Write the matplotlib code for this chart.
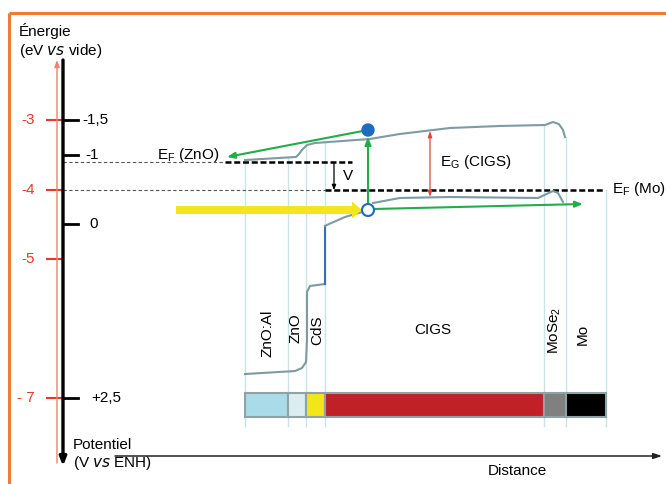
import matplotlib
matplotlib.use("Agg")
import matplotlib.pyplot as plt
from matplotlib.patches import FancyArrow, Ellipse
import numpy as np

plt.rcParams['font.family'] = ['Liberation Sans', 'DejaVu Sans']

# ---------------- data ----------------
# energy scale (eV vs vacuum) ticks, and potential scale (V vs ENH)
energy_ticks = [-3, -4, -5, -7]
energy_labels = ['-3', '-4', '-5', '- 7']
potential_ticks = [-1.5, -1, 0, 2.5]
potential_labels = ['-1,5', '-1', '0', '+2,5']

# layers (distance units) and colours
layer_names = ['ZnO:Al', 'ZnO', 'CdS', 'CIGS', r'MoSe$_{\mathregular{2}}$', 'Mo']
layer_bounds = [245, 288, 306, 325, 544, 566, 606]
layer_colors = ['#a9dce8', '#dcedf1', '#f2e51a', '#c02126', '#808080', '#000000']

# Fermi levels (eV)
ef_zno = -3.60
ef_mo = -4.01

# conduction band profile
cb_x = [245, 296, 299, 302, 307, 315, 370, 400, 450, 500, 545, 553, 559, 563, 565]
cb_E = [-3.576, -3.532, -3.49, -3.43, -3.36, -3.331, -3.273, -3.201, -3.115,
        -3.086, -3.072, -3.029, -3.060, -3.144, -3.245]

# valence band profile (ZnO:Al .. CdS)
vb1_x = [245, 295, 302, 306, 307, 307, 310, 325]
vb1_E = [-6.655, -6.612, -6.568, -6.482, -6.165, -5.475, -5.388, -5.360]
# interface step (blue)
vb_step_x = [325, 325]
vb_step_E = [-5.360, -4.525]
# valence band near interface and in CIGS
vb2_x = [325, 330, 345, 362]
vb2_E = [-4.525, -4.49, -4.396, -4.324]
vb3_x = [373, 400, 450, 538, 553, 558, 563]
vb3_E = [-4.194, -4.122, -4.108, -4.122, -4.022, -4.05, -4.18]

# carriers
electron = (368, -3.144)
hole = (368, -4.295)

# ---------------- figure ----------------
W, H = 666, 484
fig = plt.figure(figsize=(W / 100, H / 100), dpi=100)
ax = fig.add_axes([0, 0, 1, 1])
ax.set_xlim(0, W)
E_top = -3 + 120 / 69.5
E_bot = -3 - (H - 120) / 69.5
ax.set_ylim(E_bot, E_top)
ax.axis('off')

def Ey(ypx):
    return -3 - (ypx - 120) / 69.5

pxE = 1 / 69.5  # eV per pixel

# orange frame
orange = '#f07a36'
ax.plot([9, W], [Ey(13), Ey(13)], color=orange, lw=2.2, solid_capstyle='butt')
ax.plot([9, 9], [Ey(13), E_bot], color=orange, lw=2.2, solid_capstyle='butt')

# red energy axis (arrow up)
red = '#e8372c'
ax.annotate('', xy=(57, Ey(60)), xytext=(57, Ey(463)),
            arrowprops=dict(arrowstyle='-|>,head_length=0.4,head_width=0.15',
                            color='#f08070', lw=1.0, shrinkA=0, shrinkB=0))
for e, lab in zip(energy_ticks, energy_labels):
    ax.plot([47, 63], [e, e], color=red, lw=1.5)
    ax.text(35, e, lab, color=red, fontsize=11, ha='right', va='center')

# black potential axis (arrow down)
ax.annotate('', xy=(63, Ey(466)), xytext=(63, Ey(60)),
            arrowprops=dict(arrowstyle='-|>,head_length=0.5,head_width=0.2',
                            color='black', lw=2.4, shrinkA=0, shrinkB=0))
lab_dx = [82, 85, 89, 91]
for v, lab, lx in zip(potential_ticks, potential_labels, lab_dx):
    e = -4.5 - v
    ax.plot([63, 78], [e, e], color='black', lw=2.0)
    ax.text(lx, e, lab, color='black', fontsize=11, ha='left', va='center')

ax.text(19, Ey(31), 'Énergie', fontsize=11, ha='left', va='center')
ax.text(19, Ey(51), r'(eV $\mathregular{\it{vs}}$ vide)', fontsize=11, ha='left', va='center')
ax.text(73, Ey(445), 'Potentiel', fontsize=11, ha='left', va='center')
ax.text(73, Ey(463), r'(V $\mathregular{\it{vs}}$ ENH)', fontsize=11, ha='left', va='center')

# distance axis
ax.annotate('', xy=(662, Ey(456)), xytext=(115, Ey(456)),
            arrowprops=dict(arrowstyle='-|>,head_length=0.5,head_width=0.17',
                            color='#222222', lw=1.1, shrinkA=0, shrinkB=0))
ax.text(517, Ey(471), 'Distance', fontsize=11, ha='center', va='center')

# layer boundary lines
line_tops = [-3.576, -3.53, -3.36, -3.331, -3.072, -3.245, ef_mo]
for xb, et in zip(layer_bounds, line_tops):
    ax.plot([xb, xb], [et, Ey(426)], color='#c8e4ea', lw=1.0, zorder=1)

# layer bar
lefts = layer_bounds[:-1]
widths = np.diff(layer_bounds)
bar_top, bar_bot = Ey(393), Ey(417)
ax.bar(lefts, bar_top - bar_bot, width=widths, bottom=bar_bot, align='edge',
       color=layer_colors, edgecolor='#8fa3a7', linewidth=1.5, zorder=3)

# layer labels
ax.text(267, Ey(333), 'ZnO:Al', rotation=90, fontsize=11, ha='center', va='center')
ax.text(296, Ey(328), 'ZnO', rotation=90, fontsize=11, ha='center', va='center')
ax.text(317, Ey(330), 'CdS', rotation=90, fontsize=11, ha='center', va='center')
ax.text(433, Ey(330), 'CIGS', fontsize=11, ha='center', va='center')
ax.text(555, Ey(330), layer_names[4], rotation=90, fontsize=11, ha='center', va='center')
ax.text(583, Ey(334), 'Mo', rotation=90, fontsize=11, ha='center', va='center')

# Fermi levels
ax.plot([63, 225], [ef_zno, ef_zno], color='#555555', lw=0.8, ls=(0, (3, 2.2)), zorder=2)
ax.plot([225, 352], [ef_zno, ef_zno], color='black', lw=1.8, ls=(0, (2.4, 1.1)), zorder=2)
ax.plot([63, 325], [ef_mo, ef_mo], color='#555555', lw=0.8, ls=(0, (3, 2.2)), zorder=2)
ax.plot([325, 605], [ef_mo, ef_mo], color='black', lw=1.8, ls=(0, (2.4, 1.1)), zorder=2)
ax.text(157, Ey(155), r'E$_{\mathregular{F}}$ (ZnO)', fontsize=11, ha='left', va='center')
ax.text(612, Ey(189), r'E$_{\mathregular{F}}$ (Mo)', fontsize=11, ha='left', va='center')

# bands
band_col = '#7d9ba3'
ax.plot(cb_x, cb_E, color=band_col, lw=1.5, zorder=4)
ax.plot(vb1_x, vb1_E, color=band_col, lw=1.5, zorder=4)
ax.plot(vb_step_x, vb_step_E, color='#2f6fc4', lw=1.5, zorder=4)
ax.plot(vb2_x, vb2_E, color=band_col, lw=1.5, zorder=4)
ax.plot(vb3_x, vb3_E, color=band_col, lw=1.5, zorder=4)

# V arrow
ax.annotate('', xy=(334, ef_mo), xytext=(334, Ey(163)),
            arrowprops=dict(arrowstyle='-|>,head_length=0.3,head_width=0.12',
                            color='black', lw=0.9, shrinkA=0, shrinkB=0))
ax.text(343, Ey(176), 'V', fontsize=11, ha='left', va='center')

# band gap arrow
ax.annotate('', xy=(430, Ey(197)), xytext=(430, Ey(131)),
            arrowprops=dict(arrowstyle='<|-|>,head_length=0.35,head_width=0.12',
                            color='#d9473d', lw=0.9, shrinkA=0, shrinkB=0))
ax.text(440, Ey(162), r'E$_{\mathregular{G}}$ (CIGS)', fontsize=11, ha='left', va='center')

# yellow photon arrow
ax.add_patch(FancyArrow(176, hole[1], 186, 0, width=8 * pxE, head_width=17 * pxE,
                        head_length=10, length_includes_head=True,
                        color='#f2e61c', lw=0, zorder=5))

# green arrows
green = '#20ad4a'
ap = dict(arrowstyle='-|>,head_length=0.45,head_width=0.18',
          color=green, lw=1.5, shrinkA=0, shrinkB=0)
ax.annotate('', xy=(227, Ey(157)), xytext=electron, arrowprops=ap, zorder=6)
ax.annotate('', xy=(368, Ey(137)), xytext=(368, Ey(204)), arrowprops=ap, zorder=6)
ax.annotate('', xy=(583, Ey(204)), xytext=(374, Ey(209)), arrowprops=ap, zorder=6)

# carriers
ax.add_patch(Ellipse(electron, 12, 12 * pxE, facecolor='#1f6bc0', edgecolor='#1f6bc0', zorder=7))
ax.add_patch(Ellipse(hole, 12, 12 * pxE, facecolor='white', edgecolor='#1f6bc0', lw=1.5, zorder=7))

fig.savefig('out.png', dpi=100)
